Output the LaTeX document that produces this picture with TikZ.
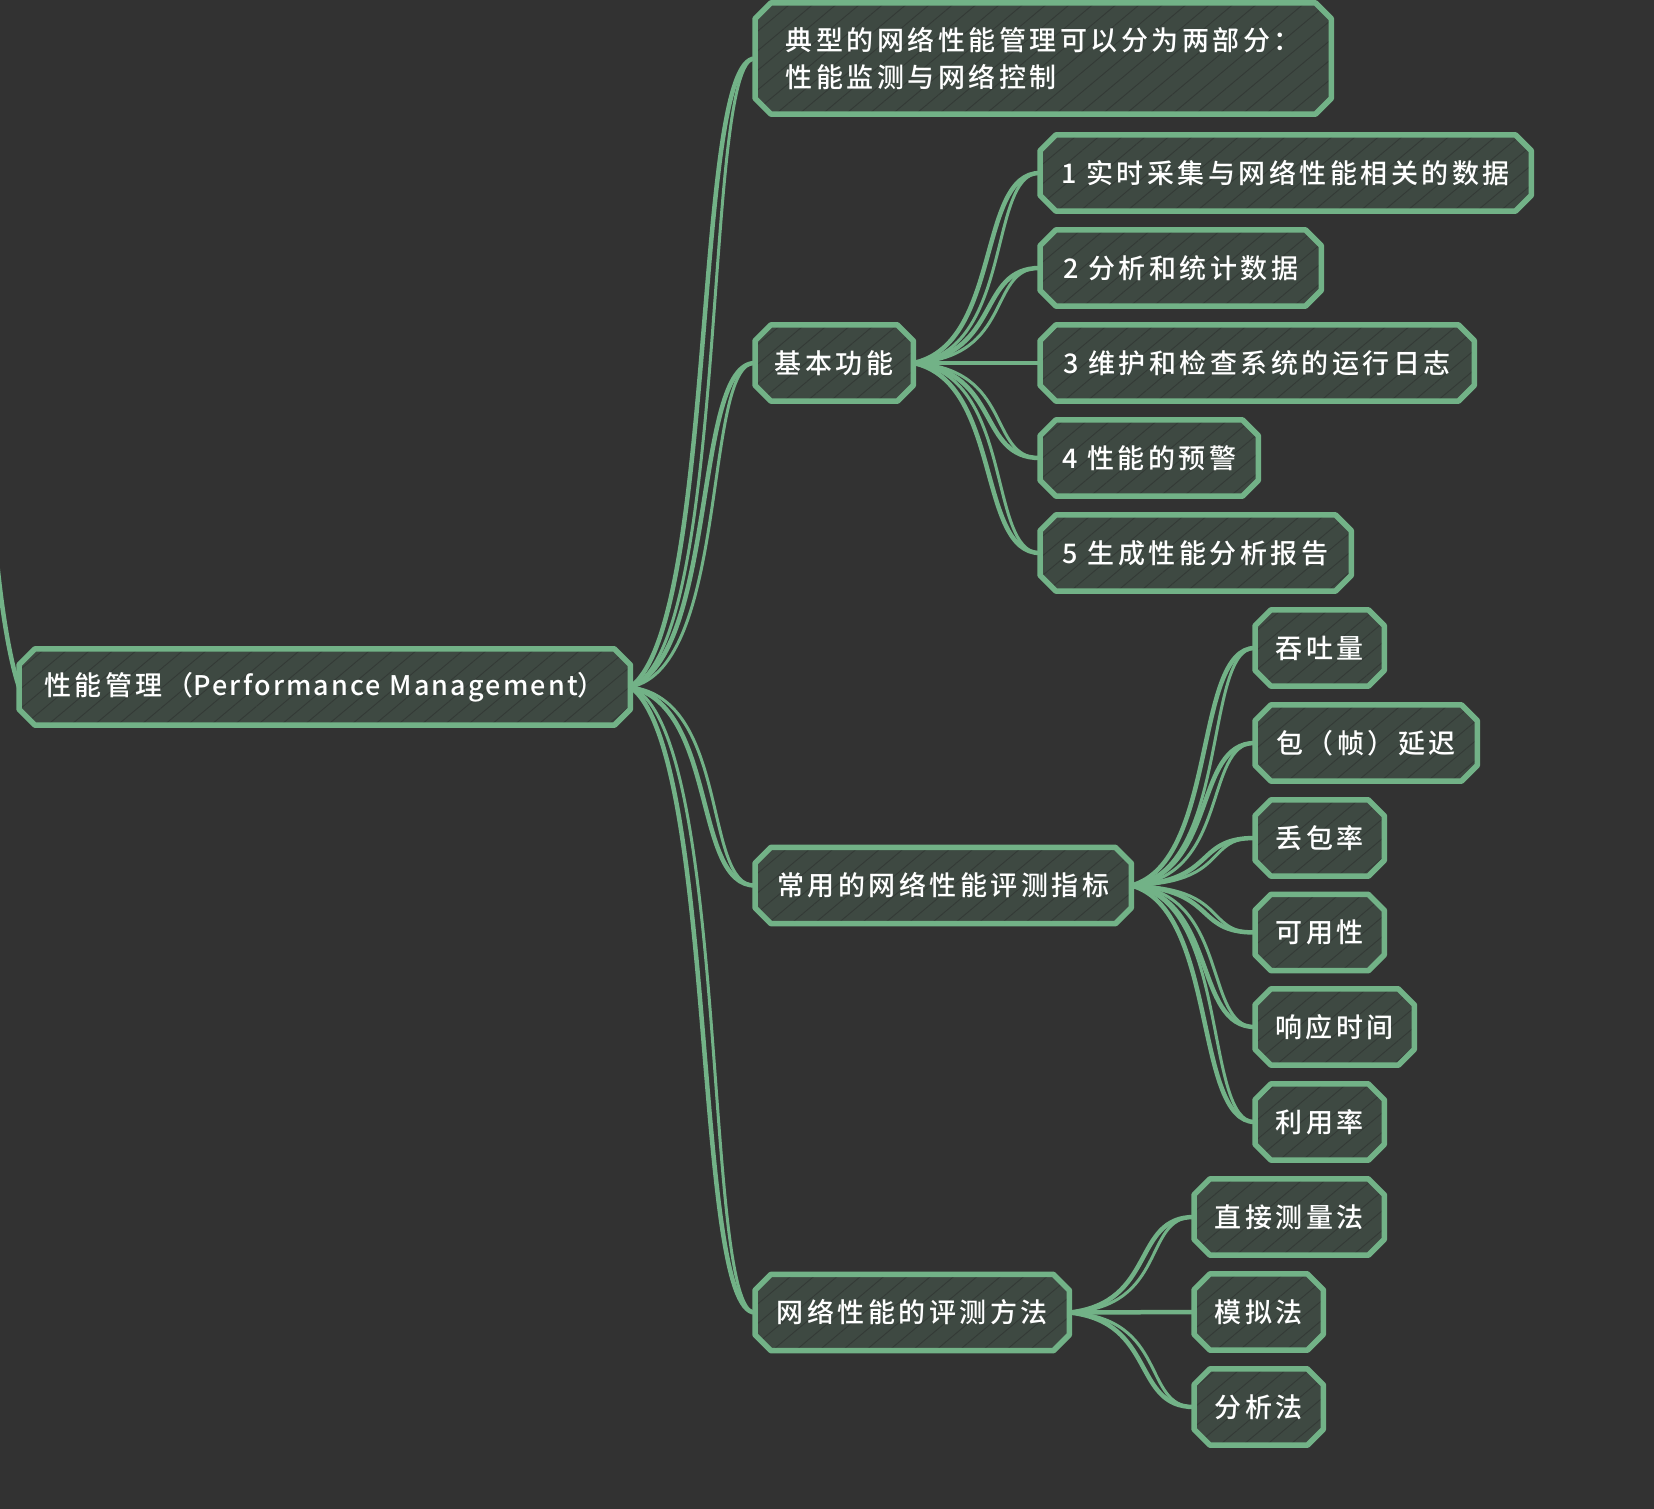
\documentclass[tikz,border=0pt]{standalone}
\usepackage{fontspec}
\setmainfont{Noto Sans CJK SC}[LetterSpace=13, UprightFont={* Medium}]
\newfontfamily\latinf{Noto Sans CJK SC}[LetterSpace=8, UprightFont={* Medium}]
\usetikzlibrary{calc,patterns.meta}
\definecolor{bgc}{HTML}{323232}
\definecolor{fillc}{HTML}{3E4942}
\definecolor{hatchc}{HTML}{343A36}
\definecolor{linec}{HTML}{72B287}
\pgfdeclarelayer{bglayer}
\pgfdeclarelayer{shapelayer}
\pgfsetlayers{bglayer,shapelayer,main}
\newcommand\mmbox[6][]{%
  \node[txt, minimum width=#5, #1] (#2) at (#3,#4) {#6};
  \begin{pgfonlayer}{shapelayer}
  \path[shp] ($(#2.north west)+(16,0)$) -- ($(#2.north east)+(-16,0)$) -- ($(#2.north east)+(0,16)$) -- ($(#2.south east)+(0,-16)$) -- ($(#2.south east)+(-16,0)$) -- ($(#2.south west)+(16,0)$) -- ($(#2.south west)+(0,-16)$) -- ($(#2.north west)+(0,16)$) -- cycle;
  \end{pgfonlayer}}
\newcommand\mmlink[2]{%
  \path[conn] let \p1=(#1.east), \p2=(#2.west) in
   (\p1) .. controls ({\x1+0.7*(\x2-\x1)},{\y1+0.1*(\y2-\y1)}) and ({\x1+0.5*(\x2-\x1)},\y2) .. (\p2);
  \path[conn2] let \p1=(#1.east), \p2=(#2.west) in
   (\p1) .. controls ({\x1+0.8*(\x2-\x1)},{\y1+0.06*(\y2-\y1)}) and ({\x1+0.58*(\x2-\x1)},\y2) .. (\p2);}
\begin{document}
\begin{tikzpicture}[x=1pt,y=-1pt,
  txt/.style={shape=rectangle, inner sep=0pt, minimum height=76pt, text=white,
    font=\fontsize{27}{37}\selectfont, anchor=west, align=left},
  shp/.style={preaction={fill=fillc}, pattern={Lines[angle=40,distance=15pt,line width=0.9pt]},
    pattern color=hatchc, draw=linec, line width=5.5pt, line join=round},
  conn/.style={draw=linec, line width=4.5pt, line cap=round},
  conn2/.style={draw=linec, line width=3pt, line cap=round}]
\begin{pgfonlayer}{bglayer}
\fill[bgc] (0,0) rectangle (1654,1509);
\end{pgfonlayer}
\useasboundingbox (0,0) rectangle (1654,1509);
% level 0
\mmbox{root}{19}{687}{611}{性能管理（{\latinf Performance Management}）}
% level 1
\mmbox[minimum height=111pt]{A}{755}{58.5}{576}{典型的网络性能管理可以分为两部分：\\性能监测与网络控制}
\mmbox{B}{755}{363}{158}{基本功能}
\mmbox{C}{755}{885.5}{376}{常用的网络性能评测指标}
\mmbox{D}{755}{1312.5}{314}{网络性能的评测方法}
% B children
\mmbox{b1}{1040}{173}{491}{1 实时采集与网络性能相关的数据}
\mmbox{b2}{1040}{268}{281}{2 分析和统计数据}
\mmbox{b3}{1040}{363}{434}{3 维护和检查系统的运行日志}
\mmbox{b4}{1040}{458}{218}{4 性能的预警}
\mmbox{b5}{1040}{553}{311}{5 生成性能分析报告}
% C children
\mmbox{c1}{1255}{648}{129}{吞吐量}
\mmbox{c2}{1255}{743}{222}{包（帧）延迟}
\mmbox{c3}{1255}{838}{129}{丢包率}
\mmbox{c4}{1255}{932.5}{129}{可用性}
\mmbox{c5}{1255}{1027}{159}{响应时间}
\mmbox{c6}{1255}{1122}{129}{利用率}
% D children
\mmbox{d1}{1194}{1217}{190}{直接测量法}
\mmbox{d2}{1194}{1312}{129}{模拟法}
\mmbox{d3}{1194}{1407}{129}{分析法}
% connectors
\coordinate (off) at (-5,540);
\path[conn] (root.west) .. controls (10,660) and (1,610) .. (off);
\foreach \c in {A,B,C,D} {\mmlink{root}{\c}}
\foreach \c in {b1,b2,b3,b4,b5} {\mmlink{B}{\c}}
\foreach \c in {c1,c2,c3,c4,c5,c6} {\mmlink{C}{\c}}
\foreach \c in {d1,d2,d3} {\mmlink{D}{\c}}
\end{tikzpicture}
\end{document}
